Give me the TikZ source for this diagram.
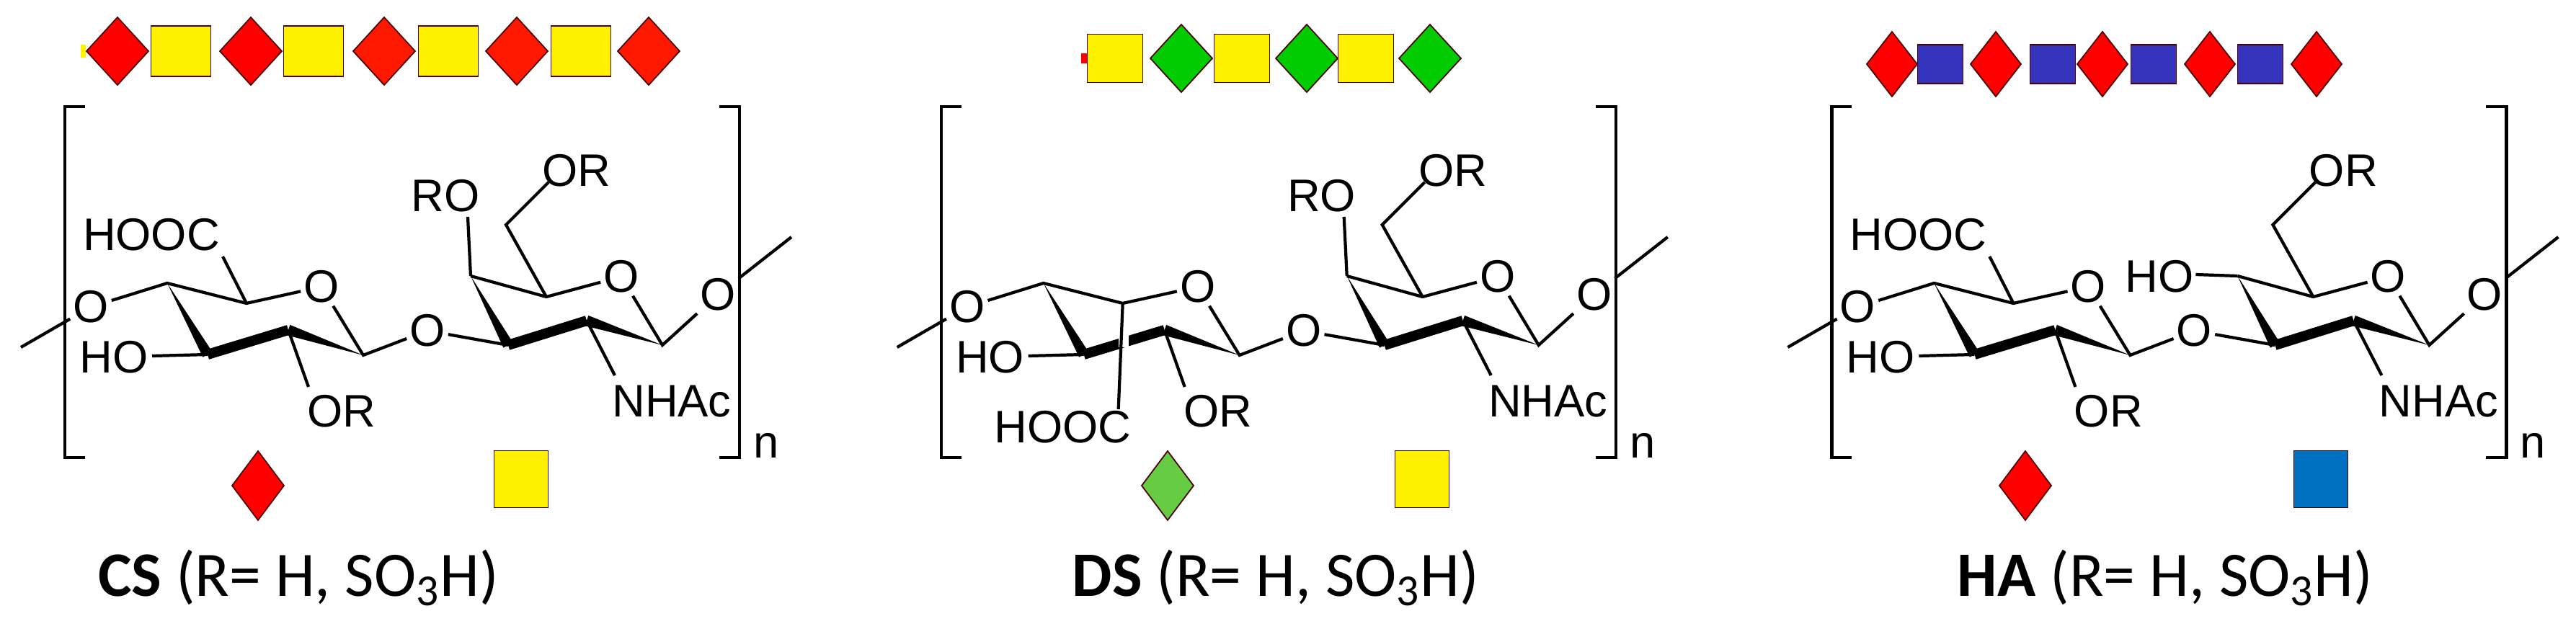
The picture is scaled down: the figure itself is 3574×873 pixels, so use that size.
\documentclass[tikz,border=0pt]{standalone}
\usepackage{fontspec}
\setmainfont{Liberation Sans}
\newfontfamily\lblfont{Carlito}
\usetikzlibrary{calc}
\tikzset{
  bond/.style={line width=1.2pt},
  atom/.style={font=\fontsize{18}{18}\selectfont, inner sep=1pt},
  glyph/.style={draw=black!70!red, line width=0.5pt},
  title/.style={font=\lblfont\fontsize{25}{25}\selectfont, inner sep=0pt}
}
\newcommand\dia[5]{\filldraw[glyph, fill=#5] (#1-#3,#2) -- (#1,#2-#4) -- (#1+#3,#2) -- (#1,#2+#4) -- cycle;}
\newcommand\sq[5]{\filldraw[glyph, fill=#5] (#1-#3/2,#2-#4/2) rectangle (#1+#3/2,#2+#4/2);}
\newcommand\wdg[2]{\fill (#1) -- ($(#2)!0.075cm!90:(#1)$) -- ($(#2)!0.075cm!-90:(#1)$) -- cycle;}
% common unit: #1 prefix
\newcommand\gagunit[1]{
  \draw[bond] (118,148) -- (90,148) -- (90,635) -- (118,635);
  \draw[bond] (998,148) -- (1026,148) -- (1026,635) -- (998,635);
  \node[atom] (#1n) at (1063,618) {n};
  \coordinate (#1L) at (29,482);
  \node[atom] (#1OL) at (126,426) {O};
  \coordinate (#1C4) at (232,393);
  \coordinate (#1C5) at (342,421);
  \node[atom] (#1OR1) at (446,398) {O};
  \coordinate (#1C1) at (504,493);
  \coordinate (#1C2) at (400,458);
  \coordinate (#1C3) at (288,492);
  \node[atom] (#1OR2) at (474,571) {OR};
  \node[atom] (#1HO) at (158,496) {HO};
  \node[atom] (#1OG) at (593,459) {O};
  \coordinate (#1D3) at (705,479);
  \coordinate (#1D4) at (653,383);
  \coordinate (#1D5) at (758,412);
  \coordinate (#1D6) at (702,312);
  \node[atom] (#1OR6) at (800,237) {OR};
  \node[atom] (#1OR3) at (862,384) {O};
  \coordinate (#1D1) at (919,479);
  \coordinate (#1D2) at (814,445);
  \node[atom] (#1NH) at (932,557) {NHAc};
  \node[atom] (#1ORt) at (996,409) {O};
  \coordinate (#1E) at (1098,329);
  \draw[bond] (#1L) -- (#1OL) -- (#1C4) -- (#1C5) -- (#1OR1) -- (#1C1) -- (#1OG) -- (#1D3);
  \draw[bond] (#1C2) -- (428,537);
  \draw[bond] (211,494) -- (#1C3);
  \wdg{#1C4}{#1C3}
  \draw[line width=4pt] (#1C3) -- (#1C2);
  \wdg{#1C1}{#1C2}
  \draw[bond] (#1D4) -- (#1D5) -- (#1OR3) -- (#1D1) -- (#1ORt) -- (#1E);
  \draw[bond] (#1D5) -- (#1D6) -- (761,253);
  \draw[bond] (#1D2) -- (853,521);
  \wdg{#1D4}{#1D3}
  \draw[line width=4pt] (#1D3) -- (#1D2);
  \wdg{#1D1}{#1D2}
}
\begin{document}
\begin{tikzpicture}[x=0.01cm,y=-0.01cm]
\useasboundingbox (0,0) rectangle (3574,873);
% ---------- CS ----------
\begin{scope}
\gagunit{cs}
\draw[bond] (csC5) -- (309,356);
\node[atom] (csHOOC) at (210,326) {HOOC};
\draw[bond] (csD4) -- (649,301);
\node[atom] (csRO) at (618,272) {RO};
\end{scope}
\fill[yellow] (112,62) rectangle (119,80);
\dia{163}{71}{43}{47}{red}
\sq{251}{71}{83}{70}{yellow}
\dia{348}{71}{43}{47}{red}
\sq{435}{71}{83}{70}{yellow}
\dia{533}{71}{43}{47}{red!80!orange}
\sq{622}{71}{83}{70}{yellow}
\dia{717}{71}{43}{47}{red!80!orange}
\sq{806}{71}{83}{70}{yellow}
\dia{900}{71}{43}{47}{red!80!orange}
\dia{358}{674}{36}{48}{red}
\sq{723}{665}{75}{79}{yellow}
\node[title] (cst) at (414,802) {\textbf{CS} (R= H, SO\textsubscript{3}H)};
% ---------- DS ----------
\begin{scope}[xshift=12.15cm]
\gagunit{ds}
\fill[white] (336,445) rectangle (350,482);
\draw[bond] (dsC5) -- (336,568);
\node[atom] (dsHOOC) at (259,593) {HOOC};
\draw[bond] (dsD4) -- (649,301);
\node[atom] (dsRO) at (618,272) {RO};
\end{scope}
\fill[red] (1500,74) rectangle (1508,88);
\sq{1547}{81}{77}{67}{yellow}
\dia{1639}{81}{43}{47}{green!80!black}
\sq{1723}{81}{77}{67}{yellow}
\dia{1813}{81}{43}{47}{green!80!black}
\sq{1895}{81}{77}{67}{yellow}
\dia{1984}{81}{43}{47}{green!80!black}
\definecolor{dsgr}{HTML}{66CC44}
\dia{1620}{674}{36}{48}{dsgr}
\sq{1973}{665}{75}{79}{yellow}
\node[title] (dst) at (1770,802) {\textbf{DS} (R= H, SO\textsubscript{3}H)};
% ---------- HA ----------
\begin{scope}[xshift=24.5cm]
\gagunit{ha}
\draw[bond] (haC5) -- (309,356);
\node[atom] (haHOOC) at (210,326) {HOOC};
\draw[bond] (haD4) -- (595,381);
\node[atom] (haHO2) at (545,384) {HO};
\end{scope}
\definecolor{hasq}{HTML}{3333BB}
\dia{2625}{89}{35}{45}{red}
\sq{2692}{89}{63}{54}{hasq}
\dia{2769}{89}{35}{45}{red}
\sq{2848}{89}{63}{54}{hasq}
\dia{2917}{89}{35}{45}{red}
\sq{2988}{89}{63}{54}{hasq}
\dia{3066}{89}{35}{45}{red}
\sq{3136}{89}{63}{54}{hasq}
\dia{3214}{89}{35}{45}{red}
\dia{2810}{674}{36}{48}{red}
\definecolor{habl}{HTML}{0070C0}
\sq{3220}{665}{75}{79}{habl}
\node[title] (hat) at (3004,802) {\textbf{HA} (R= H, SO\textsubscript{3}H)};
\end{tikzpicture}
\end{document}
